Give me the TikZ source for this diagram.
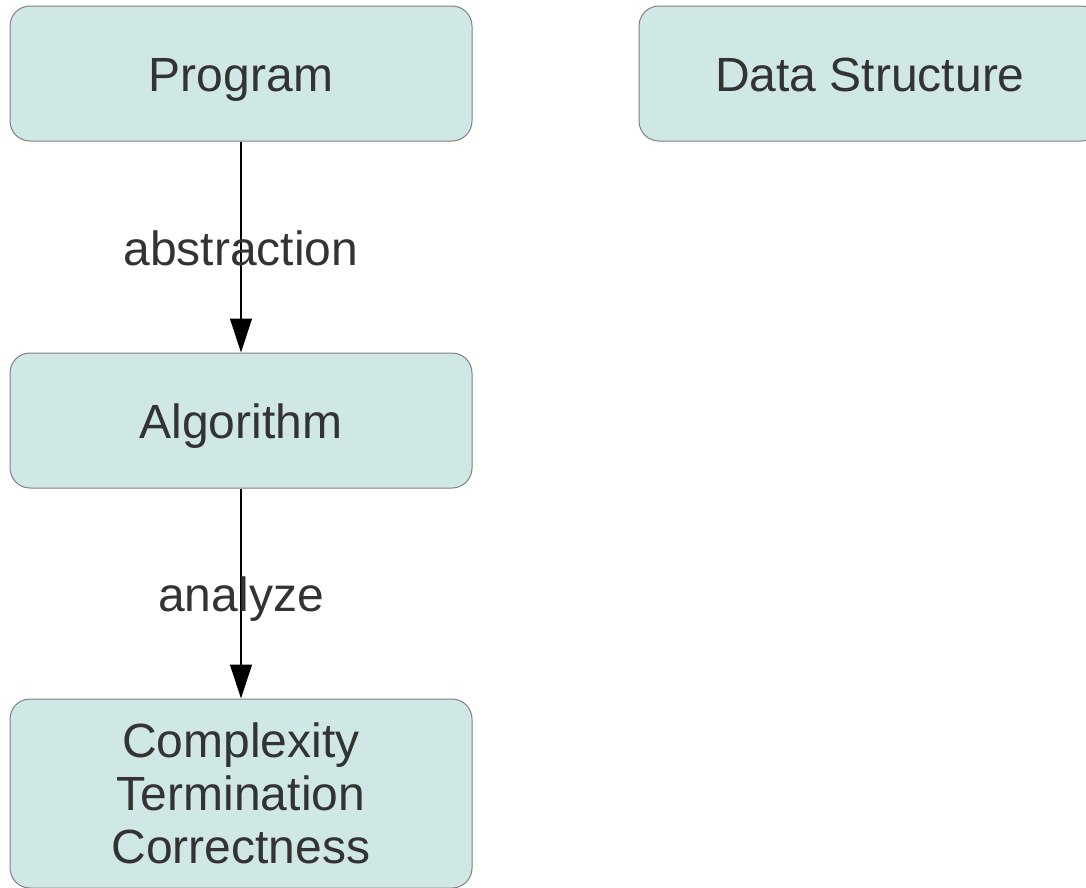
\documentclass[tikz,border=0pt]{standalone}
\usepackage{fontspec}
\setmainfont{Liberation Sans}
\usetikzlibrary{arrows.meta,positioning}
\definecolor{boxfill}{RGB}{207,231,229}
\definecolor{boxline}{RGB}{128,128,128}
\definecolor{textgray}{RGB}{51,51,51}

\begin{document}
\begin{tikzpicture}[x=1pt,y=1pt,
pile/.style={
  line width=1.2pt,
  -{Triangle[length=34pt,width=22pt]}
},
block/.style={
  rectangle,
  rounded corners=20pt,
  draw=boxline,
  line width=1pt,
  fill=boxfill,
  text=textgray,
  inner sep=0pt,
  minimum width=462pt,
  minimum height=135pt,
  align=center,
  font=\fontsize{48}{53}\selectfont
},
oneline/.style={
  text height=36pt,
  text depth=0pt
},
lbl/.style={
  text=textgray,
  inner sep=0pt,
  text height=36pt,
  text depth=0pt,
  font=\fontsize{48}{53}\selectfont
}]
\useasboundingbox (0,0) rectangle (1086,-887);

\node[block,oneline] (P) at (241,-73.5) {Program};
\node[block,oneline] (A) [below=211pt of P] {Algorithm};
\node[block, minimum height=189pt] (C) [below=210pt of A] {Complexity\\Termination\\Correctness};
\node[block,oneline] (DS) [right=166pt of P] {Data Structure};

\draw[pile] (P) -- node[lbl] {abstraction} (A);
\draw[pile] (A) -- node[lbl] {analyze} (C);

\end{tikzpicture}
\end{document}
